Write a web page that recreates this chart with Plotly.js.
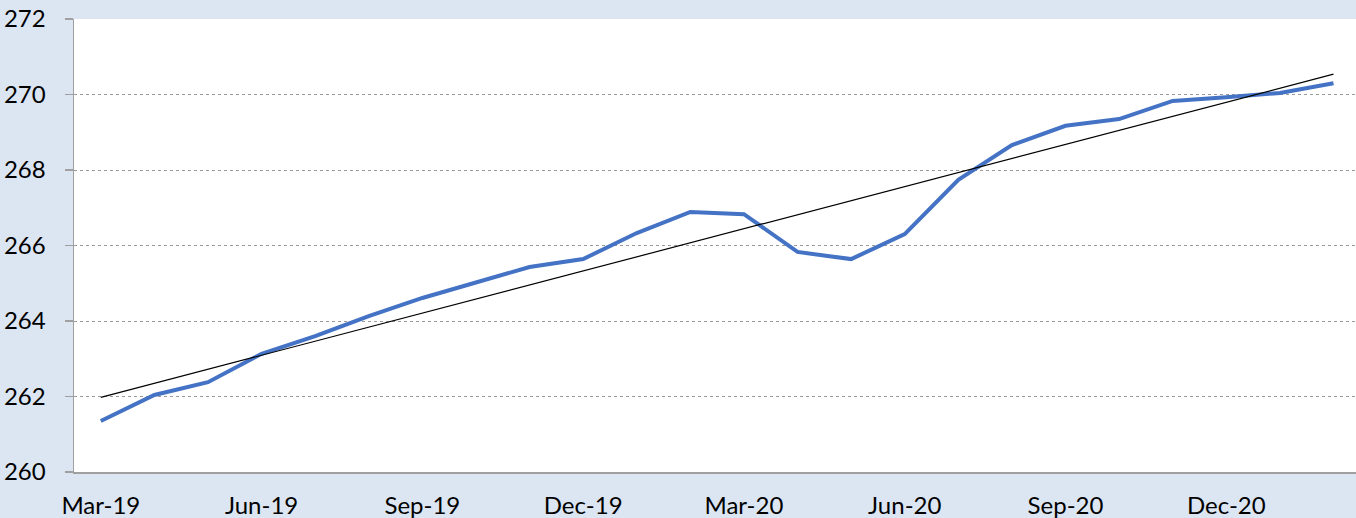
<!DOCTYPE html>
<html>
<head>
<meta charset="utf-8">
<script src="https://cdn.plot.ly/plotly-3.0.1.min.js"></script>
<style>html,body{margin:0;padding:0;background:#DCE6F2;}#chart{width:1356px;height:518px;}</style>
</head>
<body>
<div id="chart"></div>
<script>
const months = ['Mar-19','Apr-19','May-19','Jun-19','Jul-19','Aug-19','Sep-19','Oct-19','Nov-19','Dec-19','Jan-20','Feb-20','Mar-20','Apr-20','May-20','Jun-20','Jul-20','Aug-20','Sep-20','Oct-20','Nov-20','Dec-20','Jan-21','Feb-21'];
const values = [261.35,262.04,262.38,263.13,263.60,264.13,264.61,265.03,265.43,265.64,266.33,266.89,266.83,265.83,265.64,266.30,267.74,268.66,269.17,269.35,269.83,269.93,270.04,270.30];
const tickLabels = ['Mar-19','Jun-19','Sep-19','Dec-19','Mar-20','Jun-20','Sep-20','Dec-20'];
const yTicks = [260,262,264,266,268,270,272];

// Linear trend (least squares) from the series
const n = values.length;
let sx=0, sy=0, sxx=0, sxy=0;
values.forEach((v,i)=>{sx+=i; sy+=v; sxx+=i*i; sxy+=i*v;});
const slope = (n*sxy - sx*sy)/(n*sxx - sx*sx);
const intercept = (sy - slope*sx)/n;
const trendX = [months[0], months[n-1]];
const trendY = [intercept, intercept + slope*(n-1)];

const font = 'Lato, "Open Sans", sans-serif';
const data = [
  {x: months, y: values, type:'scatter', mode:'lines', line:{color:'#4472C4', width:4}, hoverinfo:'x+y'},
  {x: trendX, y: trendY, type:'scatter', mode:'lines', line:{color:'#000000', width:1.2}, hoverinfo:'skip'}
];
const layout = {
  width:1356, height:518,
  paper_bgcolor:'#DCE6F2', plot_bgcolor:'#FFFFFF',
  margin:{l:74, r:0, t:19, b:46, pad:0},
  showlegend:false,
  font:{family:font, size:24, color:'#000000'},
  xaxis:{type:'category', categoryorder:'array', categoryarray:months,
    range:[-0.5, 23.42], tickvals:tickLabels, ticktext:tickLabels,
    showgrid:false, zeroline:false, showline:true, linecolor:'#A0A0A0', linewidth:1.5,
    ticks:'', ticklabelstandoff:12, tickfont:{family:font, size:24, color:'#000'}, fixedrange:true},
  yaxis:{range:[260,272], tickvals:yTicks, showgrid:true, gridcolor:'#9A9A9A', griddash:'dot', gridwidth:1,
    zeroline:false, showline:true, linecolor:'#A0A0A0', linewidth:1.5,
    ticks:'outside', ticklen:8, tickcolor:'#A0A0A0', tickwidth:1.5, ticklabelstandoff:14,
    tickfont:{family:font, size:24, color:'#000'}, fixedrange:true}
};
Plotly.newPlot('chart', data, layout, {displayModeBar:false, staticPlot:true});
</script>
</body>
</html>
